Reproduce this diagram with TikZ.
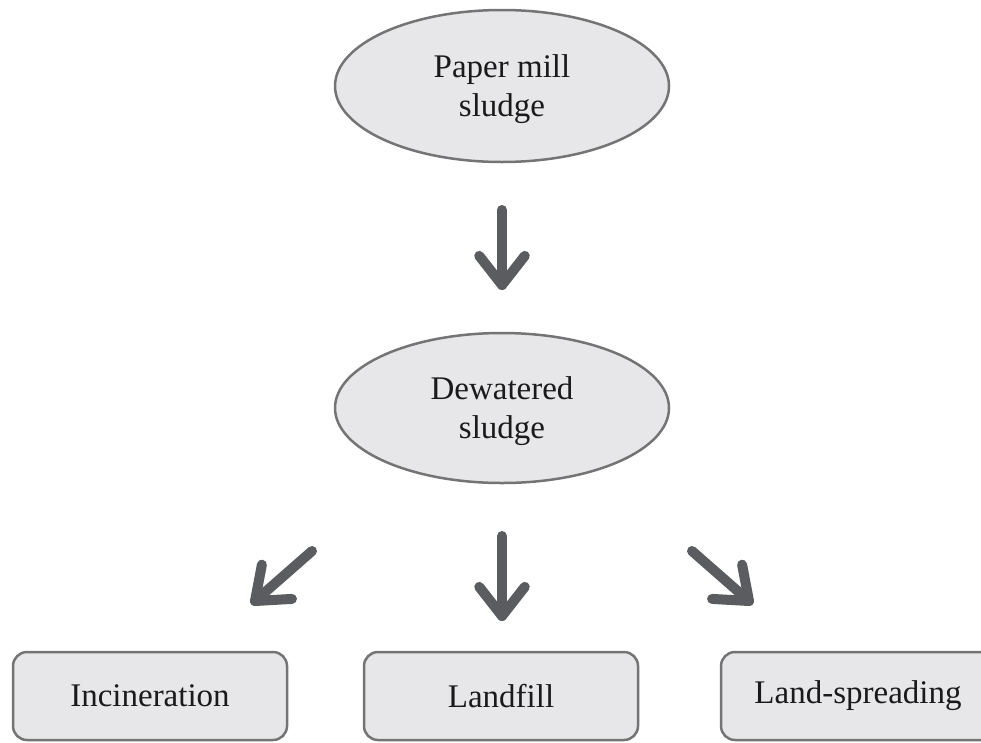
\documentclass[tikz,border=0pt]{standalone}
\usepackage{fontspec}
\setmainfont{Liberation Serif}
\usetikzlibrary{shapes.geometric,calc}
\definecolor{fillgray}{HTML}{E7E7E9}
\definecolor{edgegray}{HTML}{747474}
\definecolor{arrowgray}{HTML}{5A5C60}
\definecolor{txt}{HTML}{1A1A1A}
\tikzset{
  oval/.style={ellipse, draw=edgegray, fill=fillgray, line width=2.5pt,
    minimum width=334pt, minimum height=152pt, inner sep=0pt, align=center,
    text depth=0pt, font=\fontsize{33}{39}\selectfont, text=txt},
  rbox/.style={rectangle, rounded corners=14pt, draw=edgegray, fill=fillgray,
    line width=2.5pt, minimum width=274pt, minimum height=88pt, inner sep=0pt,
    font=\fontsize{33}{39}\selectfont, text=txt},
  fat/.style={draw=arrowgray, line width=10pt, line cap=round, line join=round},
}
\newcommand\fatarrow[2]{%
  \draw[fat] (#1) -- (#2);
  \draw[fat] ($(#2)!37pt!38:(#1)$) -- (#2) -- ($(#2)!37pt!-38:(#1)$);}
\begin{document}
\begin{tikzpicture}[x=1pt,y=-1pt]
\useasboundingbox (0,0) rectangle (981,742);
\clip (0,0) rectangle (981,742);
\node[oval] (e1) at (502,86) {Paper mill\\sludge};
\node[oval, minimum height=150pt] (e2) at (502,408) {Dewatered\\sludge};
\node[rbox] (b1) at (150,696) {Incineration};
\node[rbox] (b2) at (501,696) {Landfill};
\node[rbox] (b3) at (858,696) {Land-spreading};
\coordinate (a1s) at (502,210);
\coordinate (a1t) at (502,285);
\coordinate (a2s) at (502,536);
\coordinate (a2t) at (502,616);
\coordinate (a3s) at (312,551);
\coordinate (a3t) at (255,601);
\coordinate (a4s) at (692,551);
\coordinate (a4t) at (749,601);
\fatarrow{a1s}{a1t}
\fatarrow{a2s}{a2t}
\fatarrow{a3s}{a3t}
\fatarrow{a4s}{a4t}
\end{tikzpicture}
\end{document}
